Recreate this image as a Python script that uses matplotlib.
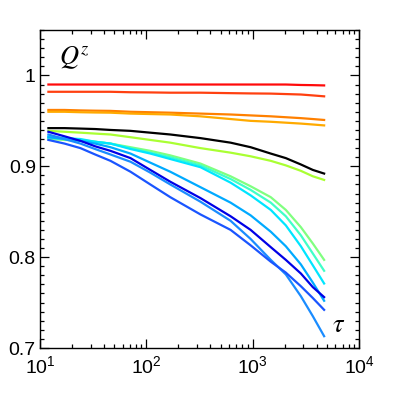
import matplotlib
matplotlib.use("Agg")
import matplotlib.pyplot as plt
import numpy as np
from matplotlib.ticker import MultipleLocator, LogLocator, NullFormatter

plt.rcParams['font.family'] = ['Liberation Sans', 'DejaVu Sans']
plt.rcParams['mathtext.fontset'] = 'custom'
plt.rcParams['mathtext.rm'] = 'Liberation Sans'
plt.rcParams['mathtext.it'] = 'Liberation Sans:italic'

tau = [12, 17, 24, 33, 46, 71, 109, 168, 323, 620, 957, 1480, 2050, 2840, 3680, 4700]

series = {
    "red":        [0.990, 0.990, 0.990, 0.990, 0.990, 0.990, 0.990, 0.990, 0.990, 0.990, 0.990, 0.990, 0.990, 0.9895, 0.9893, 0.989],
    "orangered":  [0.982, 0.982, 0.982, 0.982, 0.982, 0.9815, 0.9813, 0.981, 0.981, 0.9805, 0.9802, 0.980, 0.9795, 0.979, 0.978, 0.977],
    "orange":     [0.962, 0.962, 0.9615, 0.9612, 0.961, 0.960, 0.9595, 0.959, 0.958, 0.957, 0.956, 0.955, 0.954, 0.953, 0.952, 0.951],
    "amber":      [0.960, 0.960, 0.9595, 0.9592, 0.959, 0.958, 0.9575, 0.957, 0.955, 0.952, 0.950, 0.949, 0.948, 0.947, 0.946, 0.945],
    "black":      [0.942, 0.942, 0.9415, 0.941, 0.940, 0.939, 0.937, 0.935, 0.931, 0.926, 0.921, 0.914, 0.909, 0.902, 0.896, 0.892],
    "yellowgreen":[0.939, 0.938, 0.937, 0.936, 0.935, 0.932, 0.929, 0.926, 0.920, 0.915, 0.911, 0.906, 0.901, 0.895, 0.889, 0.885],
    "lightgreen": [0.930, 0.929, 0.928, 0.927, 0.925, 0.921, 0.917, 0.912, 0.903, 0.889, 0.878, 0.866, 0.852, 0.833, 0.815, 0.797],
    "aquamarine": [0.931, 0.930, 0.929, 0.927, 0.925, 0.920, 0.915, 0.910, 0.901, 0.886, 0.874, 0.860, 0.845, 0.824, 0.804, 0.785],
    "cyan":       [0.933, 0.931, 0.930, 0.927, 0.925, 0.919, 0.914, 0.908, 0.899, 0.882, 0.868, 0.852, 0.835, 0.812, 0.791, 0.771],
    "skyblue":    [0.932, 0.930, 0.928, 0.925, 0.921, 0.914, 0.904, 0.894, 0.877, 0.860, 0.846, 0.828, 0.812, 0.792, 0.772, 0.752],
    "darkblue":   [0.938, 0.933, 0.928, 0.922, 0.917, 0.909, 0.896, 0.883, 0.865, 0.845, 0.830, 0.811, 0.797, 0.782, 0.767, 0.756],
    "lightblue":  [0.935, 0.930, 0.925, 0.919, 0.913, 0.905, 0.893, 0.880, 0.861, 0.840, 0.820, 0.797, 0.781, 0.757, 0.735, 0.713],
    "mediumblue": [0.929, 0.925, 0.920, 0.913, 0.906, 0.894, 0.880, 0.866, 0.847, 0.830, 0.813, 0.795, 0.783, 0.768, 0.755, 0.742],
}
colors = {
    "red": "#ff0a0a", "orangered": "#ff4010", "orange": "#ff8000", "amber": "#ffaa00",
    "black": "#000000", "yellowgreen": "#aaff33", "lightgreen": "#80ff80",
    "aquamarine": "#40ffc8", "cyan": "#00e5ff", "skyblue": "#00aaff",
    "darkblue": "#0000e6", "lightblue": "#1a8cff", "mediumblue": "#1a55ff",
}

xtick_exps = [1, 2, 3, 4]
ytick_vals = [0.7, 0.8, 0.9, 1.0]
ytick_labels = ["0.7", "0.8", "0.9", "1"]

fig = plt.figure(figsize=(3.98, 3.99), dpi=100)
ax = fig.add_axes([0.1005, 0.1278, 0.8015, 0.797])

for name, vals in series.items():
    ax.plot(tau, vals, color=colors[name], lw=1.6, solid_joinstyle='round')

ax.set_xscale('log')
ax.set_xlim(10, 1e4)
ax.set_ylim(0.7, 1.05)

ax.set_xticks([10.0 ** e for e in xtick_exps])
ax.set_xticklabels([r"$\mathregular{10^{%d}}$" % e for e in xtick_exps])
ax.xaxis.set_minor_locator(LogLocator(base=10, subs=np.arange(2, 10)))
ax.xaxis.set_minor_formatter(NullFormatter())
ax.set_yticks(ytick_vals)
ax.set_yticklabels(ytick_labels)
ax.yaxis.set_minor_locator(MultipleLocator(0.01))

ax.tick_params(which='both', direction='in', top=True, right=True, width=0.9,
               labelsize=14, colors='black')
ax.tick_params(which='major', length=6.5, pad=3)
ax.tick_params(axis='x', which='major', pad=5)
ax.tick_params(which='minor', length=3.2)
for s in ax.spines.values():
    s.set_linewidth(1.0)

ax.text(0.06, 0.955, r"$Q^z$", transform=ax.transAxes, fontsize=19,
        va='top', ha='left', math_fontfamily='stix')
ax.text(0.935, 0.035, r"$\tau$", transform=ax.transAxes, fontsize=19,
        va='bottom', ha='center', math_fontfamily='stix')

fig.savefig("out.png", dpi=100)
